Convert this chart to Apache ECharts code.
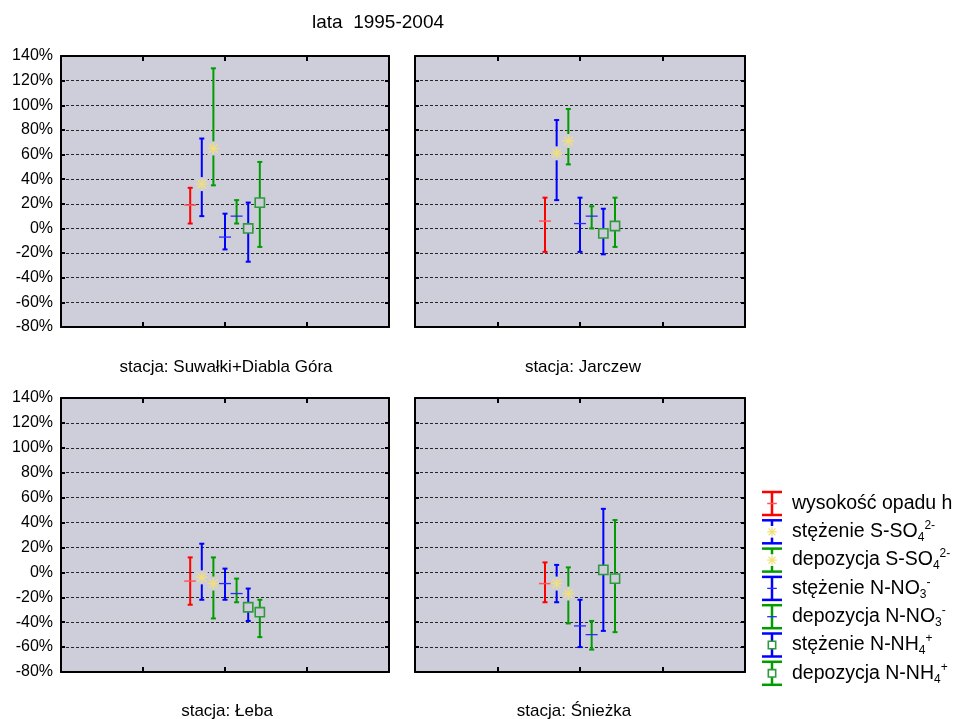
<!DOCTYPE html>
<html>
<head>
<meta charset="utf-8">
<script src="https://cdn.jsdelivr.net/npm/echarts@6/dist/echarts.min.js"></script>
<style>
  html, body { margin: 0; padding: 0; background: #ffffff; }
  #chart { width: 966px; height: 719px; }
</style>
</head>
<body>
<div id="chart"></div>
<script>
// Relative change (%) per station: mean with lower / upper bound of the interval
const chartTitle = 'lata  1995-2004';
const stationTitles = ['stacja: Suwałki+Diabla Góra', 'stacja: Jarczew', 'stacja: Łeba', 'stacja: Śnieżka'];
const seriesNames = [
  'wysokość opadu h',
  'stężenie S-SO4 2-',
  'depozycja S-SO4 2-',
  'stężenie N-NO3 -',
  'depozycja N-NO3 -',
  'stężenie N-NH4 +',
  'depozycja N-NH4 +'
];
const yTicks = [-80, -60, -40, -20, 0, 20, 40, 60, 80, 100, 120, 140];

const suwalkiMean = [19, 36, 65, -7, 10, 0, 21];
const suwalkiLow  = [4, 10, 35, -17, 4, -27, -15];
const suwalkiHigh = [33, 73, 130, 12, 23, 21, 54];

const jarczewMean = [6, 61, 71, 4, 10, -4, 2];
const jarczewLow  = [-19, 23, 52, -19, 0, -21, -15];
const jarczewHigh = [25, 88, 97, 25, 18, 16, 25];

const lebaMean = [-7, -4, -9, -9, -17, -28, -32];
const lebaLow  = [-26, -22, -37, -22, -24, -39, -52];
const lebaHigh = [12, 23, 12, 3, -5, -13, -22];

const sniezkaMean = [-9, -9, -17, -43, -50, 2, -5];
const sniezkaLow  = [-24, -24, -41, -60, -62, -47, -48];
const sniezkaHigh = [8, 6, 4, -22, -39, 51, 42];

const stationMeans = [suwalkiMean, jarczewMean, lebaMean, sniezkaMean];
const stationLows  = [suwalkiLow, jarczewLow, lebaLow, sniezkaLow];
const stationHighs = [suwalkiHigh, jarczewHigh, lebaHigh, sniezkaHigh];

// Styling
const FONT = '"Liberation Sans", Arial, sans-serif';
const PLOT_BG = '#cecdda';
const barColors = ['#ff0000', '#0000ff', '#009c00', '#0000ff', '#009c00', '#0000ff', '#009c00'];
const markerKinds = ['redTick', 'star', 'star', 'blueTick', 'blueTick', 'square', 'square'];
const CENTER_X = 2;      // middle of the 0..4 x range
const SLOT = 0.1415;     // horizontal spacing between the seven error bars

const gridBoxes = [
  { left: 61,  top: 56,  width: 328, height: 271 },
  { left: 415, top: 56,  width: 330, height: 271 },
  { left: 61,  top: 398, width: 328, height: 274 },
  { left: 415, top: 398, width: 330, height: 274 }
];
const stationTitlePos = [[226, 367], [583, 367], [227, 711], [574, 711]];

function markerShapes(kind, cx, cy, s, bg) {
  const out = [];
  if (kind === 'redTick') {
    out.push({ type: 'line', shape: { x1: cx - 6 * s, y1: cy, x2: cx + 6 * s, y2: cy },
      style: { stroke: '#ff5555', lineWidth: 1.5 } });
  } else if (kind === 'blueTick') {
    out.push({ type: 'line', shape: { x1: cx - 6 * s, y1: cy, x2: cx + 6 * s, y2: cy },
      style: { stroke: '#2a2aff', lineWidth: 1.3 } });
  } else if (kind === 'star') {
    const r = 6 * s;
    const d = r * 0.72;
    out.push({ type: 'rect', shape: { x: cx - r, y: cy - r - 1, width: 2 * r, height: 2 * r + 2 },
      style: { fill: bg } });
    const segs = [[-r, 0, r, 0], [0, -r, 0, r], [-d, -d, d, d], [-d, d, d, -d]];
    segs.forEach(function (g) {
      out.push({ type: 'line', shape: { x1: cx + g[0], y1: cy + g[1], x2: cx + g[2], y2: cy + g[3] },
        style: { stroke: '#efe07c', lineWidth: 1.3 } });
    });
  } else if (kind === 'square') {
    const h = 4.6 * s;
    out.push({ type: 'rect', shape: { x: cx - h, y: cy - h, width: 2 * h, height: 2 * h },
      style: { fill: bg, stroke: '#2f9a3c', lineWidth: 1.6 } });
  }
  return out;
}

function errorBarShapes(color, kind, cx, yMean, yLow, yHigh, capHalf, lw, s, bg) {
  const parts = [
    { type: 'line', shape: { x1: cx, y1: yHigh, x2: cx, y2: yLow }, style: { stroke: color, lineWidth: lw } },
    { type: 'line', shape: { x1: cx - capHalf, y1: yHigh, x2: cx + capHalf, y2: yHigh }, style: { stroke: color, lineWidth: lw } },
    { type: 'line', shape: { x1: cx - capHalf, y1: yLow, x2: cx + capHalf, y2: yLow }, style: { stroke: color, lineWidth: lw } }
  ];
  return parts.concat(markerShapes(kind, cx, yMean, s, bg));
}

function makeRenderItem(k) {
  return function (params, api) {
    const x = api.value(0);
    const pm = api.coord([x, api.value(1)]);
    const pl = api.coord([x, api.value(2)]);
    const ph = api.coord([x, api.value(3)]);
    return {
      type: 'group',
      children: errorBarShapes(barColors[k], markerKinds[k], pm[0], pm[1], pl[1], ph[1], 2.5, 2, 1, PLOT_BG)
    };
  };
}

const grid = [], xAxis = [], yAxis = [], series = [];
gridBoxes.forEach(function (b, i) {
  grid.push(Object.assign({ show: true, backgroundColor: PLOT_BG, borderWidth: 0 }, b));
  const showLabels = (i % 2 === 0);
  ['bottom', 'top'].forEach(function (pos) {
    xAxis.push({
      type: 'value', gridIndex: i, position: pos, min: 0, max: 4, interval: 1,
      axisLine: { show: true, onZero: false, lineStyle: { color: '#000', width: 2 } },
      axisTick: { show: true, inside: true, length: 5, lineStyle: { color: '#000', width: 2 } },
      axisLabel: { show: false },
      splitLine: { show: false }
    });
  });
  ['left', 'right'].forEach(function (pos) {
    yAxis.push({
      type: 'value', gridIndex: i, position: pos,
      min: yTicks[0], max: yTicks[yTicks.length - 1], interval: 20,
      axisLine: { show: true, onZero: false, lineStyle: { color: '#000', width: 2 } },
      axisTick: { show: true, inside: true, length: 4, lineStyle: { color: '#000', width: 2 } },
      axisLabel: {
        show: pos === 'left' && showLabels, formatter: '{value}%', margin: 8,
        color: '#000', fontSize: 16, fontFamily: FONT
      },
      splitLine: { show: pos === 'left', lineStyle: { color: '#262626', width: 1, type: [3, 2] } }
    });
  });
  seriesNames.forEach(function (name, k) {
    series.push({
      type: 'custom',
      name: name,
      xAxisIndex: 2 * i,
      yAxisIndex: 2 * i,
      renderItem: makeRenderItem(k),
      encode: { x: 0, y: [1, 2, 3] },
      data: [[CENTER_X + (k - 3) * SLOT, stationMeans[i][k], stationLows[i][k], stationHighs[i][k]]],
      z: 5,
      silent: true,
      animation: false
    });
  });
});

// Legend: small error-bar glyphs with rich-text labels (sub/superscripts)
const legendLabels = [
  '{t|wysokość opadu h}',
  '{t|stężenie S-SO}{sub|4}{sup|2-}',
  '{t|depozycja S-SO}{sub|4}{sup|2-}',
  '{t|stężenie N-NO}{sub|3}{sup|-}',
  '{t|depozycja N-NO}{sub|3}{sup|-}',
  '{t|stężenie N-NH}{sub|4}{sup|+}',
  '{t|depozycja N-NH}{sub|4}{sup|+}'
];
const legendRich = {
  t: { fontSize: 19.5, fontFamily: FONT, color: '#000', lineHeight: 24 },
  sub: { fontSize: 12, fontFamily: FONT, color: '#000', lineHeight: 13, verticalAlign: 'bottom' },
  sup: { fontSize: 12, fontFamily: FONT, color: '#000', lineHeight: 13, verticalAlign: 'top' }
};
const graphic = [];
const legendX = 772, legendTop = 503.5, legendStep = 28.3;
seriesNames.forEach(function (name, k) {
  const cy = legendTop + k * legendStep;
  graphic.push({
    type: 'group',
    children: errorBarShapes(barColors[k], markerKinds[k], legendX, cy, cy + 11.5, cy - 11.5, 10, 2.5, 0.8, '#ffffff')
  });
  graphic.push({
    type: 'text', x: 792, y: cy,
    style: { text: legendLabels[k], rich: legendRich, align: 'left', verticalAlign: 'middle' }
  });
});
graphic.push({
  type: 'text', x: 378, y: 23,
  style: { text: chartTitle, font: '19px ' + FONT, fill: '#000', align: 'center', verticalAlign: 'middle' }
});
stationTitles.forEach(function (t, i) {
  graphic.push({
    type: 'text', x: stationTitlePos[i][0], y: stationTitlePos[i][1],
    style: { text: t, font: '17px ' + FONT, fill: '#000', align: 'center', verticalAlign: 'middle' }
  });
});

const chart = echarts.init(document.getElementById('chart'), null, { renderer: 'canvas' });
chart.setOption({
  backgroundColor: '#ffffff',
  animation: false,
  grid: grid,
  xAxis: xAxis,
  yAxis: yAxis,
  series: series,
  graphic: graphic
});
</script>
</body>
</html>
